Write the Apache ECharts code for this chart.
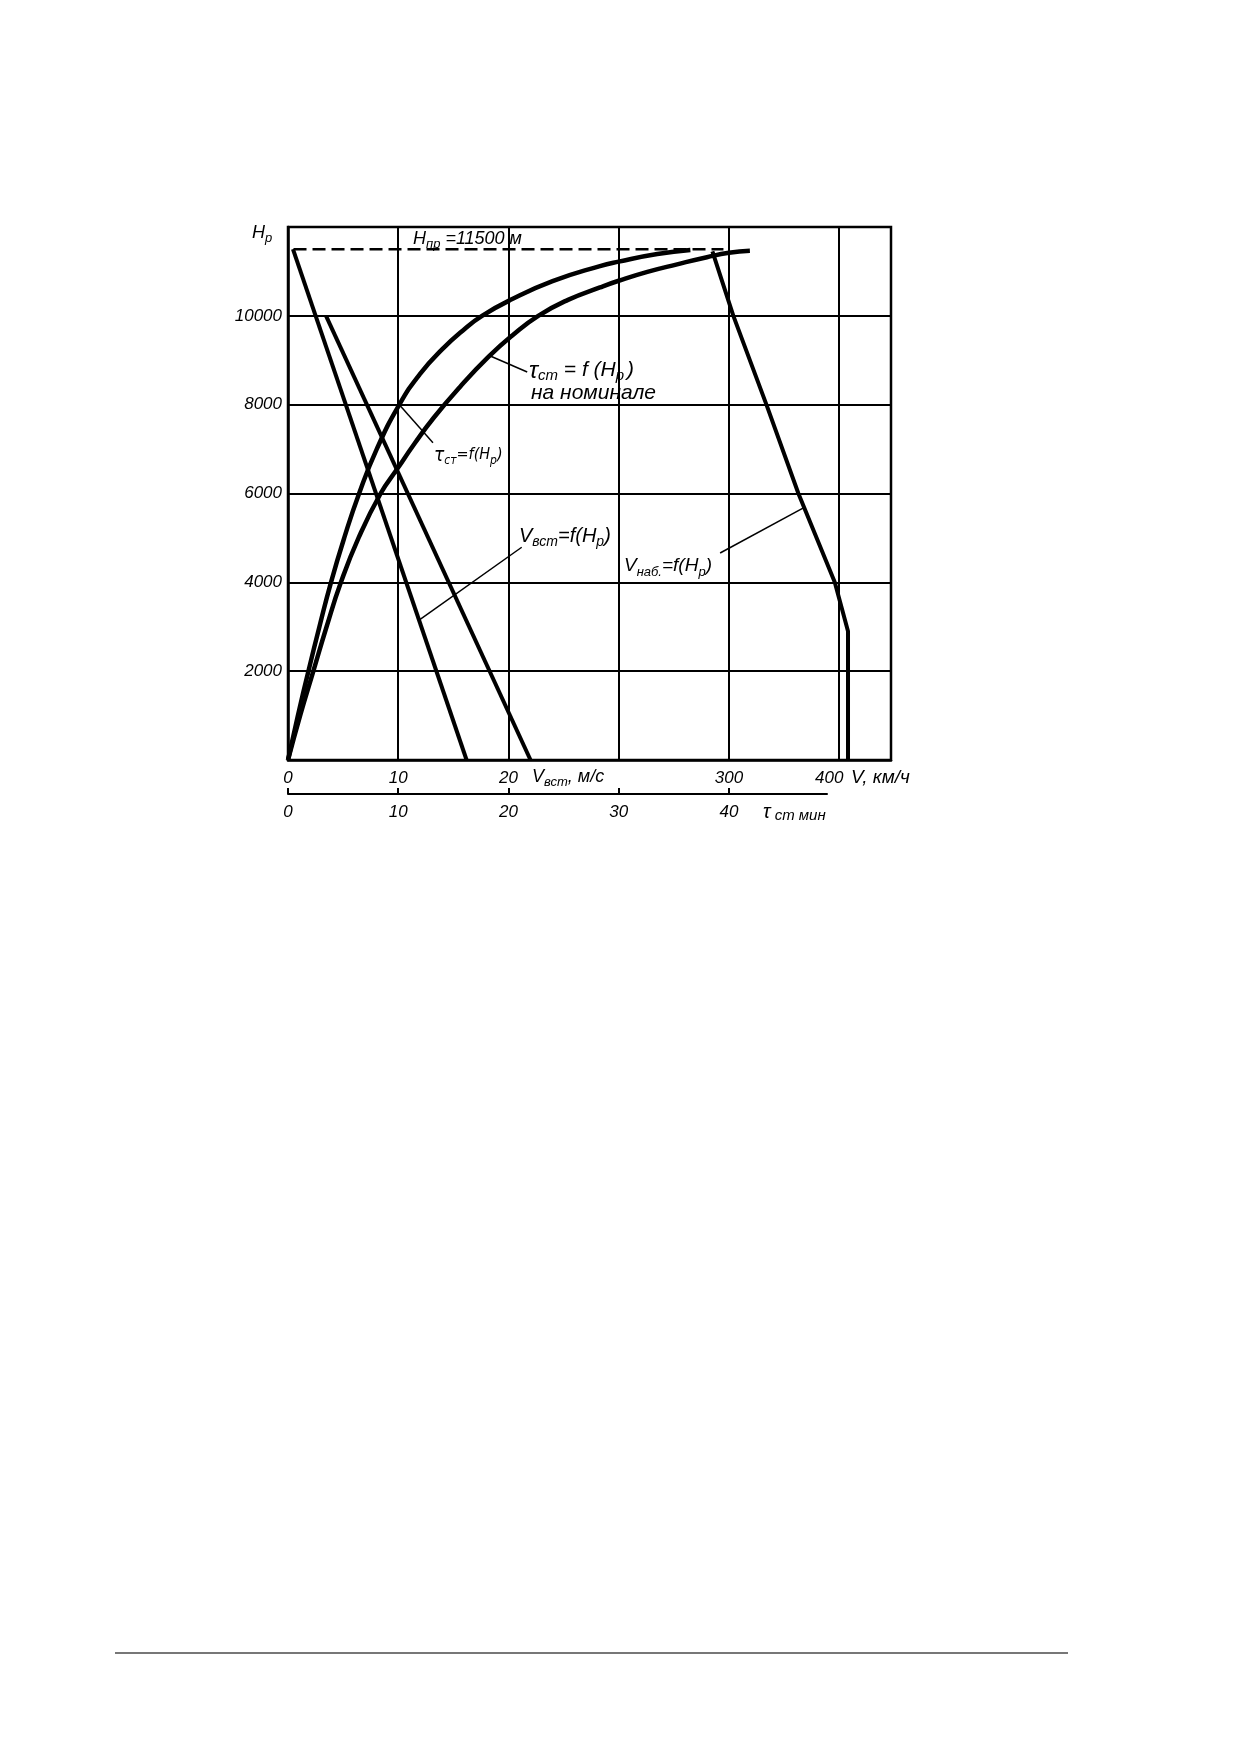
<!DOCTYPE html>
<html>
<head>
<meta charset="utf-8">
<script src="https://cdn.jsdelivr.net/npm/echarts@6/dist/echarts.min.js"></script>
<style>
  html, body { margin: 0; padding: 0; background: #fff; }
  #chart { width: 1239px; height: 1752px; }
</style>
</head>
<body>
<div id="chart"></div>
<script>
// --- data ---
// shared scale: 10 units = 10 m/s = 10 min; km/h series uses its own axis
const heightTicks = [2000, 4000, 6000, 8000, 10000];
const speedTickLabels = { 0: '0', 10: '10', 20: '20' };   // V вст, m/s
const kmhTickLabels = { 300: '300', 400: '400' };          // V, km/h
const timeTicks = [0, 10, 20, 30, 40];                     // tau, min

const ceilingLine = [[0.5, 11500], [39.5, 11500]];        // Hпр = 11500 m

// vertical speed lines, m/s
const vyLine1 = [[0.45, 11500], [16.2, 0]];
const vyLine2 = [[3.45, 10000], [22.0, 0]];

// time to climb, min
const climbTime = [
  [0, 0], [0.9, 1000], [1.85, 2000], [2.85, 3000], [3.9, 4000], [5.1, 5000],
  [6.45, 6000], [8.05, 7000], [10.1, 8000], [12, 8700], [14, 9250], [16, 9700],
  [17.6, 10000], [20.2, 10360], [24, 10780], [28.3, 11120], [30, 11220],
  [33.5, 11390], [36.5, 11480]
];
const climbTimeNominal = [
  [0, 0], [1.1, 1000], [2.3, 2000], [3.5, 3000], [4.8, 4000], [6.4, 5000],
  [8.4, 6000], [9.9, 6550], [11.5, 7130], [13.2, 7700], [15.6, 8400],
  [18.2, 9080], [20.4, 9570], [22.7, 10000], [25.4, 10360], [28.3, 10640],
  [30, 10790], [32.6, 10990], [35.3, 11160], [38, 11320], [40, 11420], [41.9, 11465]
];

// climb speed, km/h
const climbSpeed = [
  [285, 11450], [304, 10000], [334, 8000], [363, 6000], [396, 4000], [408, 2900], [408, 0]
];

// --- drawing ---
const FONT = "'Liberation Sans', Arial, sans-serif";
const NARROW = "'Liberation Sans Narrow', 'DejaVu Sans Condensed', 'Liberation Sans', sans-serif";
const tickFont = { fontFamily: FONT, fontStyle: 'italic', fontSize: 17, color: '#000' };
const black = { color: '#000', width: 2 };

const chart = echarts.init(document.getElementById('chart'));

function curve(data, width, xAxisIndex, smooth) {
  return {
    type: 'line', data, xAxisIndex, yAxisIndex: 0,
    smooth: smooth || false, showSymbol: false, silent: true,
    lineStyle: { color: '#000', width }
  };
}

chart.setOption({
  animation: false,
  backgroundColor: '#fff',
  grid: [
    { left: 288, top: 227, width: 603, height: 533, show: true,
      borderColor: '#000', borderWidth: 2.5, backgroundColor: 'transparent' },
    { left: 288, top: 780, width: 539, height: 14 }
  ],
  xAxis: [
    { type: 'value', gridIndex: 0, min: 0, max: 54.7, interval: 10, position: 'bottom',
      axisLine: { show: true, lineStyle: { color: '#000', width: 2.5 } },
      axisTick: { show: false },
      splitLine: { show: true, lineStyle: black },
      axisLabel: { ...tickFont, margin: 10, formatter: v => speedTickLabels[v] ?? '' } },
    { type: 'value', gridIndex: 0, min: -100, max: 447, interval: 100, position: 'bottom',
      axisLine: { show: false }, axisTick: { show: false }, splitLine: { show: false },
      axisLabel: { ...tickFont, margin: 10,
        rich: { l: { ...tickFont, padding: [0, 20, 0, 0] } },
        formatter: v => v === 400 ? '{l|' + kmhTickLabels[v] + '}' : (kmhTickLabels[v] ?? '') } },
    { type: 'value', gridIndex: 1, min: 0, max: 48.9, interval: 10, position: 'bottom',
      axisLine: { show: true, lineStyle: black },
      axisTick: { show: true, inside: true, length: 6, customValues: timeTicks, lineStyle: black },
      splitLine: { show: false },
      axisLabel: { ...tickFont, margin: 10, customValues: timeTicks, formatter: v => String(v) } }
  ],
  yAxis: [
    { type: 'value', gridIndex: 0, min: 0, max: 12000, interval: 2000,
      axisLine: { show: true, lineStyle: { color: '#000', width: 2.5 } },
      axisTick: { show: false },
      splitLine: { show: true, lineStyle: black },
      axisLabel: { ...tickFont, margin: 6, formatter: v => heightTicks.includes(v) ? String(v) : '' } },
    { type: 'value', gridIndex: 1, min: 0, max: 1, show: false }
  ],
  series: [
    { type: 'line', data: ceilingLine, xAxisIndex: 0, yAxisIndex: 0, showSymbol: false, silent: true,
      lineStyle: { color: '#000', width: 2.5, type: [13, 6] } },
    curve(vyLine1, 4, 0),
    curve(vyLine2, 4, 0),
    curve(climbTime, 4.5, 0, 0.5),
    curve(climbTimeNominal, 4.5, 0, 0.5),
    curve(climbSpeed, 4, 1)
  ]
});

// --- labels and leader lines ---
// main text sits at the top of the line box, subscripts at the bottom
function richSet(family, main, sub) {
  const lh = 0.85 * main + 0.15 * sub + 4;
  const base = { fontFamily: family, fontStyle: 'italic', fill: '#000' };
  return {
    main,
    rich: {
      m: { ...base, fontSize: main, lineHeight: 16, verticalAlign: 'top' },
      s: { ...base, fontSize: sub, lineHeight: lh, verticalAlign: 'bottom' },
      t: { ...base, fontSize: main + 3, lineHeight: 16, verticalAlign: 'top' }
    }
  };
}
const r18 = richSet(FONT, 18, 13);
const r19 = richSet(FONT, 19, 13);
const r20 = richSet(FONT, 20, 14);
const r21 = richSet(FONT, 21, 15);
const rUnit = richSet(FONT, 17, 15);
const rNarrow = richSet(NARROW, 16, 12);

function label(x, yc, text, set) {
  return { type: 'text', x, y: yc - set.main / 2, z: 100,
    style: { text, rich: set.rich, align: 'left', verticalAlign: 'top', fill: '#000' } };
}

const leaders = [
  { axis: 0, from: [10.1, 8000], to: [13.15, 7140] },
  { axis: 0, from: [18.3, 9100], to: [21.7, 8735] },
  { axis: 0, from: [11.89, 3150], to: [21.2, 4790] },
  { axis: 1, from: [368, 5680], to: [292, 4660] }
];

const graphics = leaders.map(l => {
  const a = chart.convertToPixel({ xAxisIndex: l.axis, yAxisIndex: 0 }, l.from);
  const b = chart.convertToPixel({ xAxisIndex: l.axis, yAxisIndex: 0 }, l.to);
  return { type: 'line', z: 100, shape: { x1: a[0], y1: a[1], x2: b[0], y2: b[1] },
    style: { stroke: '#000', lineWidth: 1.5 } };
});

graphics.push(
  label(252, 233, '{m|H}{s|p}', r18),
  label(413, 239, '{m|H}{s|пр}{m| =11500 м}', r18),
  label(434, 455, '{t|τ}{s|ст}{m|=f(H}{s|p}{m|)}', rNarrow),
  label(529, 370, '{t|τ}{s|ст}{m| = f (H}{s|p\u2009}{m|)}', r21),
  label(531, 393, '{m|на номинале}', r21),
  label(519, 536, '{m|V}{s|вст}{m|=f(H}{s|p}{m|)}', r20),
  label(624, 566, '{m|V}{s|наб.}{m|=f(H}{s|p}{m|)}', r19),
  label(532, 777, '{m|V}{s|вст}{m|, м/с}', r18),
  label(851, 778, '{m|V, км/ч}', r19),
  label(763, 811, '{t|τ}{s| ст мин}', rUnit),
  { type: 'line', shape: { x1: 115, y1: 1653, x2: 1068, y2: 1653 },
    style: { stroke: '#777', lineWidth: 2 } }
);

chart.setOption({ graphic: graphics });
</script>
</body>
</html>
